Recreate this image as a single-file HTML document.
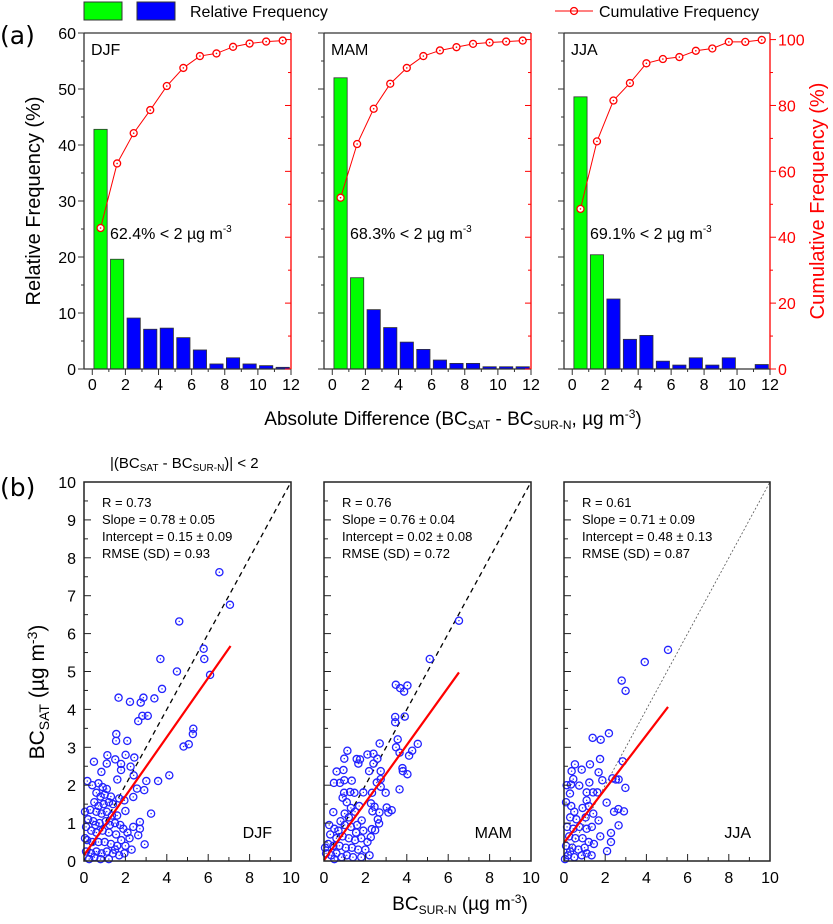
<!DOCTYPE html>
<html><head><meta charset="utf-8"><style>
body{margin:0;background:#fff;}
svg{display:block;font-family:"Liberation Sans",Arial,sans-serif;}
</style></head><body>
<svg id="fig" width="833" height="924" viewBox="0 0 833 924">
<g>
<rect x="84" y="2" width="38" height="18" fill="#00ff00" stroke="#333" stroke-width="1"/>
<rect x="137" y="2" width="38" height="18" fill="#0000ff" stroke="#333" stroke-width="1"/>
<text x="190" y="17" font-size="16">Relative Frequency</text>
<line x1="555" y1="11" x2="593" y2="11" stroke="red" stroke-width="1"/>
<circle cx="574" cy="11" r="3.5" fill="none" stroke="red" stroke-width="1.3"/>
<text x="599" y="17" font-size="16">Cumulative Frequency</text>
</g>
<text x="0" y="44" font-size="25" font-family="'DejaVu Sans',sans-serif">(a)</text>
<text x="0" y="496" font-size="25" font-family="'DejaVu Sans',sans-serif">(b)</text>
<text transform="translate(40,201) rotate(-90)" text-anchor="middle" font-size="20">Relative Frequency (%)</text>
<text transform="translate(824,201) rotate(-90)" text-anchor="middle" font-size="20" fill="red">Cumulative Frequency (%)</text>
<text x="453" y="425" text-anchor="middle" font-size="19">Absolute Difference (BC<tspan font-size="12" dy="4">SAT</tspan><tspan dy="-4"> - BC</tspan><tspan font-size="12" dy="4">SUR-N</tspan><tspan dy="-4">, µg m</tspan><tspan font-size="12" dy="-7">-3</tspan><tspan dy="7">)</tspan></text>
<text x="110" y="468" font-size="15">|(BC<tspan font-size="10" dy="3">SAT</tspan><tspan dy="-3"> - BC</tspan><tspan font-size="10" dy="3">SUR-N</tspan><tspan dy="-3">)| &lt; 2</tspan></text>
<text x="460" y="910" text-anchor="middle" font-size="19">BC<tspan font-size="12" dy="4">SUR-N</tspan><tspan dy="-4"> (µg m</tspan><tspan font-size="12" dy="-7">-3</tspan><tspan dy="7">)</tspan></text>
<text transform="translate(44,692) rotate(-90)" text-anchor="middle" font-size="21">BC<tspan font-size="14" dy="5">SAT</tspan><tspan dy="-5"> (µg m</tspan><tspan font-size="14" dy="-7">-3</tspan><tspan dy="7">)</tspan></text>
</svg>
<script>
const seasons=["DJF","MAM","JJA"];
const binCenters=[0.5,1.5,2.5,3.5,4.5,5.5,6.5,7.5,8.5,9.5,10.5,11.5];
const relDJF=[42.8,19.6,9.1,7.1,7.3,5.6,3.4,0.9,2.0,0.9,0.6,0.3];
const relMAM=[52.0,16.3,10.6,7.4,4.8,3.5,1.6,1.0,1.0,0.4,0.4,0.4];
const relJJA=[48.6,20.4,12.5,5.3,6.0,1.4,0.7,2.0,0.7,2.0,0,0.8];
const cumDJF=[42.8,62.4,71.6,78.6,85.9,91.4,95.0,95.8,97.8,98.8,99.4,99.7];
const cumMAM=[52.0,68.3,79.0,86.6,91.4,95.0,96.7,97.7,98.7,99.1,99.4,99.7];
const cumJJA=[48.6,69.1,81.5,86.8,92.8,94.1,94.7,96.6,97.3,99.3,99.3,99.9];
const pctLabels=["62.4%","68.3%","69.1%"];
const leftTicks=[0,10,20,30,40,50,60];
const rightTicks=[0,20,40,60,80,100];
const xTicksTop=[0,2,4,6,8,10,12];
const statR=["0.73","0.76","0.61"];
const statSlope=["0.78 ± 0.05","0.76 ± 0.04","0.71 ± 0.09"];
const statInt=["0.15 ± 0.09","0.02 ± 0.08","0.48 ± 0.13"];
const statRMSE=["0.93","0.72","0.87"];
const fitSlope=[0.78,0.76,0.71];
const fitIntercept=[0.15,0.02,0.48];
const fitXmax=[7.08,6.52,5.05];
const scatterTicks=[0,2,4,6,8,10];
const scatterYTicks=[0,1,2,3,4,5,6,7,8,9,10];
const ptsDJF=[[6.54,7.62],[7.05,6.76],[4.6,6.32],[5.78,5.6],[5.81,5.33],[3.69,5.33],[4.49,5.0],[6.09,4.91],[3.77,4.54],[1.67,4.31],[2.22,4.2],[2.74,4.18],[2.87,4.31],[3.4,4.29],[2.62,3.69],[2.82,3.83],[3.08,3.83],[5.28,3.49],[5.26,3.35],[5.06,3.08],[4.81,3.02],[1.56,3.35],[1.55,3.17],[2.09,3.17],[1.13,2.79],[2.01,2.8],[2.43,2.73],[0.48,2.62],[1.1,2.57],[1.51,2.68],[1.79,2.56],[1.79,2.4],[2.25,2.49],[0.84,2.35],[2.4,2.26],[4.12,2.26],[3.58,2.11],[3.01,2.11],[1.61,2.15],[0.16,2.11],[2.56,1.91],[2.91,1.87],[2.38,1.69],[3.24,1.25],[2.93,0.44],[2.0,1.32],[2.7,1.03],[2.7,0.85],[2.62,0.68],[2.38,0.9],
[0.4,2.0],[0.7,2.05],[0.9,1.95],[1.1,1.9],[0.6,1.8],[0.8,1.7],[1.0,1.75],[1.3,1.7],[1.2,1.55],[0.5,1.55],[0.7,1.45],[0.95,1.5],[1.4,1.5],[1.7,1.65],[1.95,1.6],[0.3,1.35],[0.6,1.3],[0.85,1.25],[1.1,1.3],[1.35,1.2],[1.6,1.2],[0.05,1.3],[0.2,1.1],[0.45,1.05],[0.75,1.0],[1.05,1.05],[1.5,1.0],[1.9,0.85],[2.1,0.75],[0.1,0.9],[0.35,0.8],[0.6,0.75],[0.9,0.8],[1.2,0.75],[1.55,0.7],[1.8,0.55],[2.2,0.6],[0.15,0.55],[0.4,0.5],[0.7,0.5],[1.0,0.5],[1.3,0.45],[1.6,0.4],[2.0,0.4],[0.1,0.25],[0.35,0.2],[0.6,0.25],[0.85,0.2],[1.1,0.25],[1.4,0.2],[1.7,0.15],[1.95,0.2],[0.25,0.05],[0.5,0.1],[0.8,0.05],[1.2,0.05],[1.5,0.3],[2.3,0.3],[0.05,0.6],[0.55,0.95],[1.25,0.95],[1.75,0.95]];
const ptsMAM=[[6.52,6.34],[5.11,5.33],[3.47,4.65],[3.68,4.56],[3.87,4.47],[4.03,4.63],[3.44,3.8],[3.44,3.66],[3.9,3.81],[3.56,3.21],[3.48,3.0],[3.65,2.86],[4.53,3.09],[4.26,2.91],[4.11,2.78],[2.69,3.1],[3.79,2.45],[3.81,2.37],[4.03,2.29],[3.65,1.89],[1.13,2.91],[0.98,2.7],[2.1,2.81],[2.39,2.83],[2.58,2.7],[2.39,2.57],[1.58,2.69],[1.74,2.68],[1.66,2.57],[0.61,2.36],[0.94,2.4],[2.18,2.37],[2.74,2.37],[0.48,2.06],[0.77,2.06],[0.98,2.13],[1.34,2.12],[2.74,2.16],[2.55,2.07],[2.74,1.96],[2.98,1.8],[1.9,1.81],[0.97,1.8],[1.26,1.82],[1.47,1.8],[0.9,1.67],[2.32,1.8],[2.27,1.52],[2.44,1.43],[3.03,1.41],[3.11,1.28],[3.27,1.34],[0.45,1.29],[2.34,1.31],[2.68,1.28],[1.82,1.07],[2.6,1.1],[2.66,0.99],[2.47,0.81],[2.26,0.63],[2.31,0.84],
[1.1,1.55],[1.3,1.4],[1.0,1.25],[1.2,1.15],[1.5,1.3],[1.7,1.45],[0.8,1.05],[1.0,0.95],[1.3,0.9],[1.6,0.95],[1.9,0.8],[0.5,0.85],[0.7,0.8],[0.3,0.7],[0.6,0.6],[0.9,0.65],[1.2,0.6],[1.5,0.55],[1.8,0.6],[2.1,0.5],[0.2,0.45],[0.45,0.4],[0.75,0.4],[1.05,0.35],[1.35,0.35],[1.65,0.3],[2.0,0.3],[0.1,0.2],[0.35,0.15],[0.6,0.2],[0.85,0.1],[1.1,0.15],[1.4,0.1],[1.8,0.1],[0.05,0.35],[0.5,0.05],[2.2,0.15],[1.55,0.75],[0.25,0.95]];
const ptsJJA=[[5.05,5.57],[3.92,5.25],[2.8,4.76],[2.99,4.49],[2.18,3.37],[1.39,3.25],[1.78,3.2],[1.75,2.69],[2.85,2.63],[0.53,2.55],[1.26,2.55],[0.37,2.37],[0.86,2.41],[1.68,2.34],[0.45,2.16],[1.86,2.13],[2.35,2.18],[2.52,2.15],[2.65,2.15],[0.13,2.0],[0.34,2.02],[0.74,1.99],[1.23,2.07],[2.98,1.93],[0.29,1.78],[1.1,1.81],[1.41,1.81],[1.62,1.81],[2.07,1.54],[2.43,1.3],[2.64,1.37],[2.91,1.31],[2.65,0.94],[1.68,1.07],[1.42,1.25],[2.28,0.74],[2.28,0.5],[2.09,0.26],[1.76,0.65],[1.34,0.15],[0.86,0.15],
[0.1,1.55],[0.35,1.45],[1.1,1.6],[1.2,1.45],[0.9,1.4],[0.5,1.3],[0.3,1.15],[0.6,1.1],[1.05,1.15],[0.15,0.9],[0.45,0.85],[0.75,0.9],[1.1,0.85],[1.35,0.9],[0.25,0.65],[0.55,0.6],[0.9,0.6],[1.2,0.5],[1.45,0.45],[0.1,0.4],[0.4,0.35],[0.7,0.3],[1.0,0.35],[0.2,0.15],[0.5,0.1],[1.1,0.2],[0.05,0.05],[0.3,0.25]];
const NS="http://www.w3.org/2000/svg";
const svg=document.getElementById('fig');
function mk(tag,attrs,parent){const e=document.createElementNS(NS,tag);for(const k in attrs)e.setAttribute(k,attrs[k]);(parent||svg).appendChild(e);return e;}
const panelLeft=[84,324,564],panelRight=[291,531,770];
const relAll=[relDJF,relMAM,relJJA],cumAll=[cumDJF,cumMAM,cumJJA],ptsAll=[ptsDJF,ptsMAM,ptsJJA];
const tTop=33,tBot=369;
for(let p=0;p<3;p++){
  const L=panelLeft[p],R=panelRight[p];
  const xs=v=>L+(v+0.5)/12.5*(R-L);
  const ys=v=>tBot-v/60*(tBot-tTop);
  const yc=v=>tBot-v/102*(tBot-tTop);
  const g=mk('g',{});
  
  
  relAll[p].forEach((v,i)=>{
    if(v<=0)return;
    const bw=0.8*(R-L)/12.5;
    const r=mk('rect',{x:xs(binCenters[i])-bw/2,y:ys(v),width:bw,height:tBot-ys(v),fill:i<2?'#00ff00':'#0000ff',stroke:'#333','stroke-width':0.8},g);
    
    
  });
  const pts=cumAll[p].map((v,i)=>xs(binCenters[i])+','+yc(v)).join(' ');
  const pl=mk('polyline',{points:pts,fill:'none',stroke:'red','stroke-width':1},g);
  
  
  cumAll[p].forEach((v,i)=>{
    const c=mk('circle',{cx:xs(binCenters[i]),cy:yc(v),r:3.5,fill:'#fff',stroke:'red','stroke-width':1.3},g);
    
    
    mk('circle',{cx:xs(binCenters[i]),cy:yc(v),r:0.8,fill:'red'},g);
  });
  mk('line',{x1:L,y1:tTop,x2:R,y2:tTop,stroke:'#333','stroke-width':1.3},g);
  mk('line',{x1:L,y1:tTop,x2:L,y2:tBot,stroke:'#333','stroke-width':1.3},g);
  mk('line',{x1:L,y1:tBot,x2:R,y2:tBot,stroke:'#333','stroke-width':1.3},g);
  mk('line',{x1:R,y1:tTop,x2:R,y2:tBot,stroke:'red','stroke-width':1.3},g);
  for(let v=0;v<=60;v+=5){const maj=v%10===0;mk('line',{x1:L-(maj?6:3),y1:ys(v),x2:L,y2:ys(v),stroke:'#333','stroke-width':1},g);}
  if(p===0)leftTicks.forEach(v=>{const t=mk('text',{x:L-8,y:ys(v)+6,'text-anchor':'end','font-size':16},g);t.textContent=v;});
  for(let v=0;v<=100;v+=10){const maj=v%20===0;const out=p===2;const len=maj?6:3;mk('line',{x1:R,y1:yc(v),x2:out?R+len:R-len,y2:yc(v),stroke:'red','stroke-width':1},g);}
  if(p===2)rightTicks.forEach(v=>{const t=mk('text',{x:R+8,y:yc(v)+6,'font-size':16,fill:'red'},g);t.textContent=v;});
  for(let v=0;v<=12;v++){const maj=v%2===0;mk('line',{x1:xs(v),y1:tBot,x2:xs(v),y2:tBot+(maj?6:3),stroke:'#333','stroke-width':1},g);}
  xTicksTop.forEach(v=>{const t=mk('text',{x:xs(v),y:tBot+21,'text-anchor':'middle','font-size':16},g);t.textContent=v;});
  const s=mk('text',{x:L+7,y:55,'font-size':16},g);s.textContent=seasons[p];
  const a=mk('text',{x:L+26,y:239,'font-size':16},g);
  a.innerHTML=pctLabels[p]+' &lt; 2 µg m<tspan font-size="10" dy="-7">-3</tspan>';
  
}
const bTop=482,bBot=861;
for(let p=0;p<3;p++){
  const L=panelLeft[p],R=panelRight[p];
  const xs=v=>L+v/10*(R-L);
  const ys=v=>bBot-v/10*(bBot-bTop);
  const g=mk('g',{});
  
  
  const d=mk('line',{x1:xs(0),y1:ys(0),x2:xs(10),y2:ys(10),stroke:p===2?'#555':'#000','stroke-width':p===2?0.8:1.3,'stroke-dasharray':p===2?'2,2':'5,4'},g);
  
  ptsAll[p].forEach(pt=>{
    const c=mk('circle',{cx:xs(pt[0]),cy:ys(pt[1]),r:3.6,fill:'none',stroke:'#2222ff','stroke-width':1.3},g);
    
    mk('circle',{cx:xs(pt[0]),cy:ys(pt[1]),r:0.7,fill:'#2222ff'},g);
  });
  const f=mk('line',{x1:xs(0),y1:ys(fitIntercept[p]),x2:xs(fitXmax[p]),y2:ys(fitSlope[p]*fitXmax[p]+fitIntercept[p]),stroke:'red','stroke-width':2.2},g);
  
  mk('rect',{x:L,y:bTop,width:R-L,height:bBot-bTop,fill:'none',stroke:'#222','stroke-width':1.5},g);
  for(let v=0;v<=10;v+=0.5){const maj=v%1===0;mk('line',{x1:L,y1:ys(v),x2:L+(maj?7:4),y2:ys(v),stroke:'#222','stroke-width':1},g);}
  for(let v=0;v<=10;v+=1){const maj=v%2===0;mk('line',{x1:xs(v),y1:bBot,x2:xs(v),y2:bBot-(maj?7:4),stroke:'#222','stroke-width':1},g);}
  if(p===0)scatterYTicks.forEach(v=>{const t=mk('text',{x:L-8,y:ys(v)+6,'text-anchor':'end','font-size':16},g);t.textContent=v;});
  scatterTicks.forEach(v=>{const t=mk('text',{x:xs(v),y:bBot+22,'text-anchor':'middle','font-size':16},g);t.textContent=v;});
  const lines=['R = '+statR[p],'Slope = '+statSlope[p],'Intercept = '+statInt[p],'RMSE (SD) = '+statRMSE[p]];
  lines.forEach((s,i)=>{const t=mk('text',{x:L+18,y:507+i*17,'font-size':13},g);t.textContent=s;});
  const s=mk('text',{x:R-19,y:838,'text-anchor':'end','font-size':16},g);s.textContent=seasons[p];
}
</script>
</body></html>
